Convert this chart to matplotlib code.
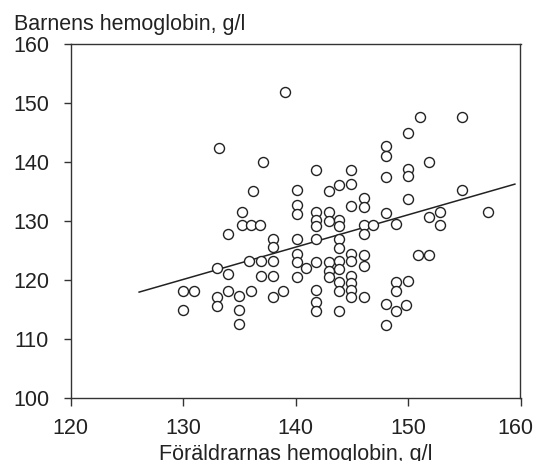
import numpy as np
import matplotlib
matplotlib.use("Agg")
import matplotlib.pyplot as plt
import matplotlib.transforms as mtrans

# Föräldrarnas hemoglobin (x) och barnens hemoglobin (y), g/l
foraldrar=[133.2,137.1,136.2,135.2,135.2,136.0,136.8,134.0,138.0,
           139.1,151.1,154.8,150.0,148.0,148.0,151.9,141.8,144.9,150.0,150.0,148.0,
           140.1,143.0,143.9,144.9,154.8,140.1,140.1,146.1,146.1,144.9,150.0,
           141.8,141.8,141.8,143.0,143.0,143.9,143.9,148.0,146.1,146.9,148.9,146.1,
           151.9,152.8,152.8,157.1,140.1,141.8,143.9,
           138.0,133.0,134.0,135.9,136.9,138.0,136.9,138.0,130.0,131.0,133.0,133.0,
           134.0,135.0,136.0,130.0,135.0,135.0,138.0,138.9,
           143.9,140.1,140.1,140.9,141.8,140.1,143.0,143.0,143.0,143.9,143.9,
           144.9,144.9,146.1,146.1,150.9,151.9,141.8,141.8,141.8,143.9,143.9,143.9,
           144.9,144.9,144.9,144.9,146.1,148.0,148.0,148.9,148.9,150.0,148.9,149.8]
barn=[142.5,140.1,135.2,131.5,129.3,129.3,129.3,127.8,127.0,
      151.9,147.6,147.6,145.0,142.8,141.1,140.1,138.7,138.7,138.8,137.7,137.5,
      135.3,135.2,136.2,136.3,135.3,132.8,131.2,133.9,132.5,132.6,133.8,
      131.5,130.3,129.2,131.5,130.1,130.3,129.2,131.4,129.4,129.3,129.5,127.8,
      130.7,131.5,129.4,131.5,127.0,127.0,127.0,
      125.7,122.1,121.0,123.2,123.2,123.2,120.7,120.7,118.2,118.2,117.2,115.7,
      118.2,117.3,118.2,115.0,115.0,112.6,117.1,118.2,
      125.4,124.5,123.1,122.0,123.1,120.6,123.1,121.6,120.5,123.2,121.9,
      124.5,123.2,124.3,122.5,124.3,124.3,118.4,116.3,114.8,119.7,118.2,114.8,
      120.8,119.6,118.4,117.1,117.1,115.9,112.4,119.7,118.2,119.9,114.8,115.8]
# regressionslinjens ändpunkter
linje_x=[126.1,159.5]
linje_y=[118.0,136.3]
xticks=[120,130,140,150,160]
yticks=[100,110,120,130,140,150,160]

plt.rcParams['font.family']=['Liberation Sans','DejaVu Sans']
plt.rcParams['font.size']=15.5
farg="#222222"
fig=plt.figure(figsize=(5.34,4.61),dpi=100)
ax=fig.add_axes([70.5/534,1-398.3/461,450/534,(398.3-44.3)/461])
ax.plot(linje_x,linje_y,color=farg,lw=1.1)
ax.plot(foraldrar,barn,ls="none",marker="o",ms=7.2,mfc="white",mec=farg,mew=1.0)
ax.set_xlim(120,160);ax.set_ylim(100,160)
ax.set_xticks(xticks);ax.set_yticks(yticks)
for s in ax.spines.values():
    s.set_color("#333333");s.set_linewidth(1.0)
ax.tick_params(axis="both",direction="out",length=5.4,width=1.0,color="#333333",labelcolor=farg)
ax.tick_params(axis="y",pad=10)
ax.tick_params(axis="x",pad=8.5)
# sista etiketten flyttas in lite så att den syns helt
sista=ax.get_xticklabels()[-1]
sista.set_transform(sista.get_transform()+mtrans.ScaledTranslation(-4/72,0,fig.dpi_scale_trans))
ax.set_xlabel("Föräldrarnas hemoglobin, g/l",color=farg,labelpad=4)
fig.text(14/534,1-30/461,"Barnens hemoglobin, g/l",color=farg,ha="left",va="baseline")
fig.savefig("out.png",dpi=100)
